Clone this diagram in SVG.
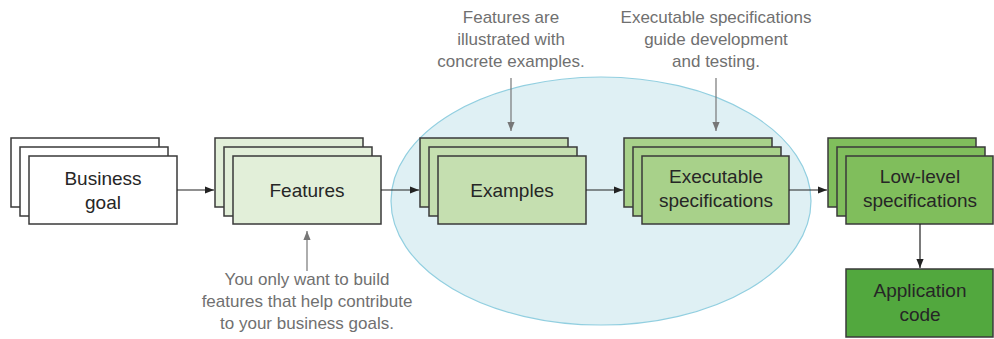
<svg xmlns="http://www.w3.org/2000/svg" width="994" height="339" viewBox="0 0 994 339">
<defs>
<style>
.r{stroke:#3a3a3a;stroke-width:1.5}
.t{font-family:"Liberation Sans",Arial,sans-serif;font-size:19px;fill:#262626;text-anchor:middle}
.a{font-family:"Liberation Sans",Arial,sans-serif;font-size:17px;fill:#707070;text-anchor:middle}
.c{stroke:#222;stroke-width:1.2;fill:none}
.g{stroke:#777;stroke-width:1.2;fill:none}
</style>
<marker id="ah" viewBox="0 0 10 10" refX="10" refY="5" markerWidth="9" markerHeight="9" markerUnits="userSpaceOnUse" orient="auto"><path d="M0,1 L10,5 L0,9 Z" fill="#222"/></marker>
<marker id="ag" viewBox="0 0 10 10" refX="10" refY="5" markerWidth="9" markerHeight="9" markerUnits="userSpaceOnUse" orient="auto"><path d="M0,1 L10,5 L0,9 Z" fill="#777"/></marker>
</defs>
<rect width="994" height="339" fill="#fff"/>
<ellipse cx="601" cy="201" rx="210" ry="124" fill="#dff0f4" stroke="#92cfe0" stroke-width="1.2"/>
<g id="business-goal">
<rect class="r" x="11" y="138" width="148" height="69" fill="#fff"/>
<rect class="r" x="20" y="147" width="148" height="69" fill="#fff"/>
<rect class="r" x="29" y="156" width="148" height="68" fill="#fff"/>
<text class="t" x="103" y="185">Business</text>
<text class="t" x="103" y="209">goal</text>
</g>
<g id="features">
<rect class="r" x="215" y="138" width="148" height="69" fill="#e2efd9"/>
<rect class="r" x="224" y="147" width="148" height="69" fill="#e2efd9"/>
<rect class="r" x="233" y="156" width="148" height="68" fill="#e2efd9"/>
<text class="t" x="307" y="197">Features</text>
</g>
<g id="examples">
<rect class="r" x="420" y="138" width="148" height="69" fill="#c5dfb0"/>
<rect class="r" x="429" y="147" width="148" height="69" fill="#c5dfb0"/>
<rect class="r" x="438" y="156" width="148" height="68" fill="#c5dfb0"/>
<text class="t" x="512" y="197">Examples</text>
</g>
<g id="executable-specifications">
<rect class="r" x="624" y="138" width="148" height="69" fill="#a8d18a"/>
<rect class="r" x="633" y="147" width="148" height="69" fill="#a8d18a"/>
<rect class="r" x="642" y="156" width="147" height="68" fill="#a8d18a"/>
<text class="t" x="716" y="183">Executable</text>
<text class="t" x="716" y="207">specifications</text>
</g>
<g id="low-level-specifications">
<rect class="r" x="828" y="138" width="148" height="69" fill="#80be5c"/>
<rect class="r" x="837" y="147" width="148" height="69" fill="#80be5c"/>
<rect class="r" x="846" y="156" width="147" height="68" fill="#80be5c"/>
<text class="t" x="920" y="183">Low-level</text>
<text class="t" x="920" y="207">specifications</text>
</g>
<g id="application-code">
<rect class="r" x="846" y="269" width="147" height="68" fill="#52a83e"/>
<text class="t" x="920" y="297">Application</text>
<text class="t" x="920" y="321">code</text>
</g>
<g id="annotations">
<text class="a" x="511" y="23">Features are</text>
<text class="a" x="511" y="45">illustrated with</text>
<text class="a" x="511" y="67">concrete examples.</text>
<text class="a" x="716" y="23">Executable specifications</text>
<text class="a" x="716" y="45">guide development</text>
<text class="a" x="716" y="67">and testing.</text>
<text class="a" x="307" y="285">You only want to build</text>
<text class="a" x="307" y="307">features that help contribute</text>
<text class="a" x="307" y="329">to your business goals.</text>
</g>
<g id="connectors">
<line class="c" x1="177" y1="190" x2="214" y2="190" marker-end="url(#ah)"/>
<line class="c" x1="381" y1="190" x2="419" y2="190" marker-end="url(#ah)"/>
<line class="c" x1="586" y1="190" x2="623" y2="190" marker-end="url(#ah)"/>
<line class="c" x1="789" y1="190" x2="827" y2="190" marker-end="url(#ah)"/>
<line class="c" x1="920" y1="224" x2="920" y2="268" marker-end="url(#ah)"/>
<line class="g" x1="511" y1="78" x2="511" y2="131" marker-end="url(#ag)"/>
<line class="g" x1="716" y1="78" x2="716" y2="131" marker-end="url(#ag)"/>
<line class="g" x1="307" y1="271" x2="307" y2="231" marker-end="url(#ag)"/>
</g>
</svg>
